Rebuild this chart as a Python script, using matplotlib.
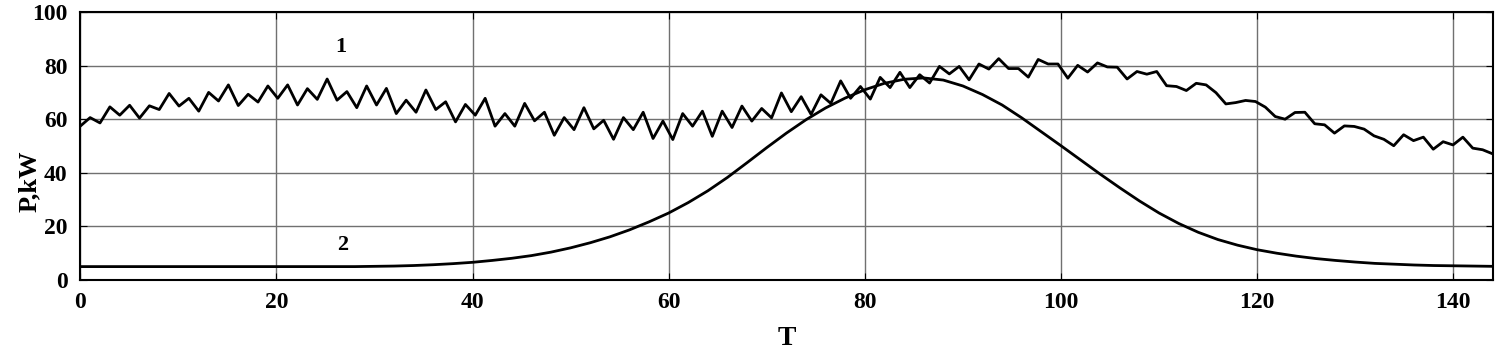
import numpy as np
import matplotlib.pyplot as plt

# curve 1: measured power, one sample per step (T 0..144)
p1 = [57.4, 60.6, 58.6, 64.6, 61.5, 65.2, 60.4, 65.0, 63.6, 69.6,
      64.9, 67.8, 63.0, 70.0, 66.8, 72.8, 65.1, 69.3, 66.4, 72.4,
      67.8, 72.8, 65.3, 71.4, 67.4, 75.0, 67.1, 70.3, 64.3, 72.4,
      65.3, 71.5, 62.1, 67.1, 62.6, 70.9, 63.6, 66.5, 59.0, 65.5,
      61.5, 67.8, 57.4, 62.1, 57.4, 65.9, 59.4, 62.6, 54.0, 60.6,
      56.1, 64.3, 56.4, 59.6, 52.5, 60.6, 56.1, 62.6, 52.8, 59.3,
      52.4, 62.1, 57.4, 63.0, 53.6, 63.0, 56.9, 64.9, 59.3, 64.0,
      60.5, 69.8, 62.8, 68.4, 61.8, 69.1, 65.9, 74.3, 67.8, 72.2,
      67.5, 75.6, 71.8, 77.5, 71.8, 76.6, 73.5, 79.7, 76.9, 79.7,
      74.7, 80.6, 78.7, 82.6, 78.9, 78.9, 75.7, 82.3, 80.6, 80.6,
      75.3, 80.1, 77.6, 81.0, 79.5, 79.4, 75.0, 77.8, 76.8, 77.8,
      72.5, 72.2, 70.7, 73.4, 72.8, 69.9, 65.7, 66.2, 67.0, 66.6,
      64.5, 61.0, 60.0, 62.5, 62.6, 58.3, 57.9, 54.8, 57.5, 57.3,
      56.3, 53.8, 52.5, 50.1, 54.2, 52.0, 53.3, 48.8, 51.6, 50.4,
      53.3, 49.2, 48.6, 47.1]
t1 = np.linspace(0, 144, len(p1))

# curve 2: every 2 units of T
t2 = np.arange(0, 145, 2)
p2 = [5.0] * 15 + [
      5.1, 5.2, 5.4, 5.7, 6.1, 6.6, 7.3, 8.1, 9.1, 10.4,
      12.0, 13.9, 16.1, 18.7, 21.7, 25.0, 28.9, 33.3, 38.3, 43.8,
      49.4, 54.8, 59.8, 64.2, 67.9, 71.0, 73.4, 74.9, 75.4, 74.6,
      72.4, 69.2, 65.3, 60.5, 55.3, 50.1, 44.8, 39.5, 34.4, 29.5,
      25.0, 21.1, 17.8, 15.1, 13.0, 11.3, 10.0, 8.9, 8.0, 7.3,
      6.7, 6.2, 5.9, 5.6, 5.4, 5.3, 5.2, 5.1]

plt.rcParams['font.family'] = ['Liberation Serif', 'DejaVu Serif']
plt.rcParams['font.weight'] = 'bold'

fig = plt.figure(figsize=(15, 3.5), dpi=100)
ax = fig.add_axes([0.0535, 0.2, 0.9415, 0.7657])

ax.plot(t1, p1, color='black', lw=2)
ax.plot(t2, p2, color='black', lw=2)

ax.text(26.6, 87, '1', fontsize=16, fontweight='bold', ha='center', va='center')
ax.text(26.8, 13, '2', fontsize=16, fontweight='bold', ha='center', va='center')

ax.set_xlim(0, 144)
ax.set_ylim(0, 100)
ax.set_xticks(range(0, 141, 20))
ax.set_yticks(range(0, 101, 20))
ax.grid(True, color='#707070', lw=1)
ax.tick_params(direction='in', top=True, right=True, length=5, labelsize=17, pad=9)
for s in ax.spines.values():
    s.set_linewidth(1.5)

ax.set_xlabel('T', fontsize=20, fontweight='bold', labelpad=9)
ax.set_ylabel('P,kW', fontsize=19, fontweight='bold')
ax.yaxis.set_label_coords(-0.028, 0.37)

fig.savefig('out.png', dpi=100)
